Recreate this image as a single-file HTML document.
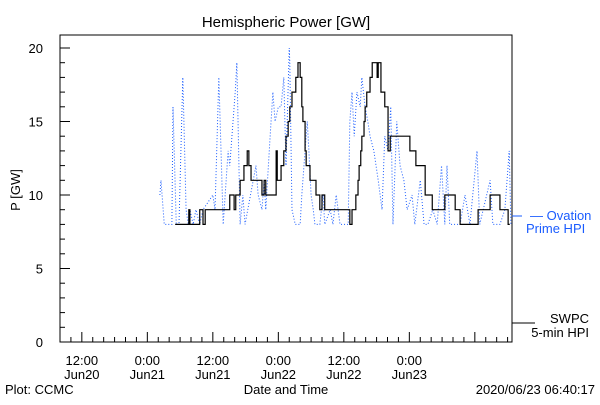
<!DOCTYPE html>
<html><head><meta charset="utf-8"><style>
body{margin:0;background:#fff;}
svg text{font-family:"Liberation Sans",sans-serif;font-size:13px;}
</style></head><body>
<svg id="chart" width="600" height="400" xmlns="http://www.w3.org/2000/svg">
<rect width="600" height="400" fill="#fff"/>
<text x="286" y="27" text-anchor="middle" style="font-size:15px">Hemispheric Power [GW]</text>
<rect x="60" y="35" width="452" height="307" fill="none" stroke="#000" stroke-width="1"/>
<g id="yticks"></g><g id="xticks"></g>
<text transform="translate(20,190) rotate(-90)" text-anchor="middle">P [GW]</text>
<text x="286" y="394" text-anchor="middle">Date and Time</text>
<text x="5" y="394">Plot: CCMC</text>
<text x="595" y="394" text-anchor="end">2020/06/23 06:40:17</text>
<path id="blue" fill="none" stroke="#1a5cff" stroke-width="1" stroke-dasharray="1,2"/>
<path id="black" fill="none" stroke="#000" stroke-width="1.2"/>
<g>
<line x1="512" y1="216" x2="522" y2="216" stroke="#1a5cff"/>
<text x="530" y="220" fill="#1a5cff">— Ovation</text>
<text x="526" y="233" fill="#1a5cff">Prime HPI</text>
</g>
<g>
<line x1="512" y1="323" x2="535" y2="323" stroke="#000"/>
<text x="589" y="323" text-anchor="end">SWPC</text>
<text x="589" y="337" text-anchor="end">5-min HPI</text>
</g>
</svg>
<script>
const yTickValues=[0,5,10,15,20];
const xTickHours=[12,24,36,48,60,72];
const xTickLabels1=["12:00","0:00","12:00","0:00","12:00","0:00"];
const xTickLabels2=["Jun20","Jun21","Jun21","Jun22","Jun22","Jun23"];
const swpcTimes=[29.1,31.6,31.8,33.6,34.2,34.6,39.1,39.9,40.2,41.0,41.7,42.3,42.6,43.0,45.0,45.4,45.7,47.6,47.8,48.5,49.0,49.4,49.8,50.1,50.5,51.2,51.6,52.0,52.3,52.5,52.9,53.1,53.8,54.9,55.6,56.0,56.5,61.1,61.5,62.2,62.6,62.8,63.1,63.3,63.7,63.9,64.2,64.8,65.2,66.1,66.3,66.8,67.5,68.1,68.5,72.1,73.2,74.9,76.2,78.5,80.4,81.3,84.6,86.8,88.6,90.1,90.4];
const swpcValues=[8,9,8,9,8,9,10,9,10,11,12,13,12,11,10,11,10,13,11,12,13,14,15,16,17,18,19,18,16,15,13,12,11,10,9,10,9,8,9,10,11,12,13,14,15,16,17,18,19,18,19,17,16,13,14,13,12,10,9,10,9,8,9,10,9,8,8];
const ovTimes=[26.3,26.5,26.7,27.1,28.5,28.7,29.3,29.8,30.5,30.7,31.1,31.5,31.8,32.4,32.9,33.6,34.2,36.0,36.4,37.1,37.9,38.8,39.1,39.5,40.1,40.4,41.0,41.5,41.9,43.9,44.3,45.0,45.4,45.7,46.5,47.0,47.4,48.0,48.5,49.0,49.4,50.0,50.1,50.5,51.1,52.0,52.3,53.3,53.6,54.0,54.4,54.7,55.6,56.2,56.5,57.5,58.0,58.6,59.3,60.8,61.1,61.5,61.9,62.4,63.0,63.3,63.9,64.4,64.8,65.5,66.3,67.0,67.5,68.1,68.6,69.0,69.7,70.3,71.0,71.6,72.5,73.0,74.0,74.7,75.4,76.3,77.1,77.9,78.5,78.9,79.4,81.3,82.2,83.1,84.4,84.9,86.8,87.3,88.6,89.5,90.3,90.6];
const ovValues=[10,11,10,8,8,16,8,8,18,15,9,8,9,8,9,8,9,10,9,18,8,13,12,14,17,19,8,10,8,12,10,9,11,9,14,17,15,16,16,18,12,20,19,9,8,8,10,15,13,10,9,8,8,10,8,9,8,10,8,8,15,17,14,17,16,18,16,15,14,13,11,9,14,13,16,8,15,12,11,9,10,8,11,8,8,9,8,12,8,12,8,8,10,8,13,8,11,8,8,9,13,8];
const NS='http://www.w3.org/2000/svg';
const X=h=>60+(h-8)*65.5/12;
const Y=v=>342-v*14.7;
const yt=document.getElementById('yticks');
for(let v=0;v<=20;v++){
  const l=document.createElementNS(NS,'line');
  
  
  const len=v%5===0?10:5;
  l.setAttribute('x1',60);l.setAttribute('x2',60+len);
  l.setAttribute('y1',Y(v));l.setAttribute('y2',Y(v));l.setAttribute('stroke','#000');
  yt.appendChild(l);
}
yTickValues.forEach(v=>{
  const t=document.createElementNS(NS,'text');
  
  
  t.setAttribute('x',43);t.setAttribute('y',Y(v)+5);t.setAttribute('text-anchor','end');
  t.textContent=v;yt.appendChild(t);
});
const xt=document.getElementById('xticks');
for(let h=10;h<=90;h+=2){
  const major=(h%12===0);
  const l=document.createElementNS(NS,'line');
  
  
  const len=major?10:5;
  l.setAttribute('x1',X(h));l.setAttribute('x2',X(h));
  l.setAttribute('y1',342);l.setAttribute('y2',342-len);
  l.setAttribute('stroke','#000');xt.appendChild(l);
}
xTickHours.forEach((h,i)=>{
  [[xTickLabels1[i],365],[xTickLabels2[i],379]].forEach(([s,y])=>{
    const t=document.createElementNS(NS,'text');
    
    
    t.setAttribute('x',X(h));t.setAttribute('y',y);t.setAttribute('text-anchor','middle');
    t.textContent=s;xt.appendChild(t);
  });
});
let d='';
swpcTimes.forEach((h,i)=>{
  if(i===0)d+='M'+X(h)+','+Y(swpcValues[i]);
  else d+=' H'+X(h)+' V'+Y(swpcValues[i]);
});
document.getElementById('black').setAttribute('d',d);
let d2='';
ovTimes.forEach((h,i)=>{d2+=(i?' L':'M')+X(h)+','+Y(ovValues[i]);});
document.getElementById('blue').setAttribute('d',d2);
</script>
</body></html>
